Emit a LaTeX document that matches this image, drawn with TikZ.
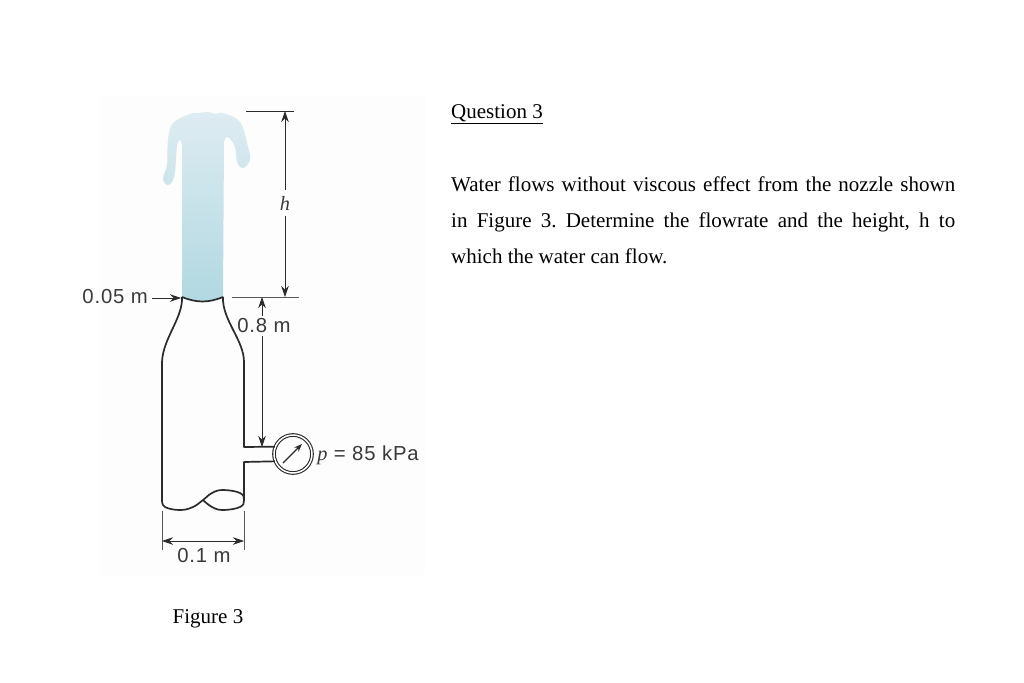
\documentclass[tikz,border=0pt]{standalone}
\usepackage{fontspec}
\setmainfont{Liberation Serif}
\newfontfamily\figfont[LetterSpace=4]{Liberation Sans}
\usetikzlibrary{arrows.meta}
\definecolor{inkdark}{HTML}{2B2B2B}
\definecolor{labelgray}{HTML}{3A3A3A}
\definecolor{jettop}{HTML}{DEECF2}
\definecolor{jetbot}{HTML}{B1D8E1}
\definecolor{panelbg}{HTML}{FDFDFD}
\tikzset{
    wall/.style={draw=inkdark,line width=1.7pt,line join=round},
    dimline/.style={draw=inkdark,line width=0.7pt},
    tickline/.style={draw=black!65,line width=0.9pt},
    dimarrow/.style={dimline,>={Stealth[length=11pt,width=7.5pt]}},
    figlabel/.style={text=labelgray,font=\figfont\fontsize{20.3}{22}\selectfont,inner sep=0pt},
    bodytext/.style={font=\fontsize{21}{36}\selectfont\frenchspacing,inner sep=0pt,anchor=north west}
}
\begin{document}
\begin{tikzpicture}[x=1pt,y=-1pt]
    \useasboundingbox (0,0) rectangle (1024,682);
    \fill[panelbg] (100,95) rectangle (425,575);
    % water jet
    \shade[top color=jettop,bottom color=jetbot] (182,297) -- plot[smooth, tension=0.6] coordinates {(182,145) (180,140) (177,146) (175,172) (172,182) (167,185) (163,178) (167,165) (168,140) (173,123) (190,114) (199,113) (208,112) (216,114) (223,113) (240,122) (248,147) (250,160) (243,168) (237,162) (235,147) (228,137) (224,141)} -- (223,297) to[bend left=22] cycle;
    % bottle
    \draw[wall] (182,297) to[bend right=22] (223,297);
    \node[circle,draw=inkdark,line width=1.1pt,double,double distance=1.5pt,minimum size=38pt,inner sep=0pt] (gauge) at (293,454) {};
    \draw[wall] (182,297) .. controls (183,318) and (163,338) .. (162,362) -- (162,500) plot[smooth, tension=0.7] coordinates {(162,500) (165,507) (180,510) (193,507) (203,500) (212,493) (223,490) (240,493) (244,500) (240,507) (223,510) (212,507) (203,500)};
    \draw[wall] (223,297) .. controls (222,320) and (244,340) .. (244,362) -- (244,447) -- (gauge.158);
    \draw[wall] (gauge.202) -- (244,462) -- (244,500);
    \coordinate (needlea) at (283,463);
    \coordinate (needleb) at (302,444);
    \draw[->,>={Stealth[length=8pt,width=6pt]},draw=inkdark,line width=1.3pt] (needlea) -- (needleb);
    % labels
    \node[figlabel] (plabel) at (368,455) {{\fontspec{Liberation Serif}\itshape p} = 85 kPa};
    \node[figlabel,anchor=east] (dnozzle) at (148,297) {0.05 m};
    \node[figlabel,inner sep=6pt] (heightlabel) at (285,203) {{\fontspec{Liberation Serif}\itshape h}};
    \node[figlabel,inner sep=3pt] (lenlabel) at (264,326) {0.8 m};
    \node[figlabel] (dpipe) at (204,556) {0.1 m};
    % dimension h
    \coordinate (htopa) at (246,111);
    \coordinate (htopb) at (294,111);
    \coordinate (hbota) at (232,297);
    \coordinate (hbotb) at (299,297);
    \draw[dimline] (htopa) -- (htopb);
    \draw[tickline] (hbota) -- (hbotb);
    \coordinate (harrowa) at (285,111);
    \coordinate (harrowb) at (285,297);
    \draw[dimarrow,->] (heightlabel) -- (harrowa);
    \draw[dimarrow,->] (heightlabel) -- (harrowb);
    % dimension 0.8 m
    \coordinate (lenup) at (262,297);
    \coordinate (lendown) at (262,447);
    \draw[dimarrow,->] (lenlabel.north -| lenup) -- (lenup);
    \draw[dimarrow,->] (lenlabel.south -| lendown) -- (lendown);
    % dimension 0.05 m
    \coordinate (nozzleleft) at (181,298);
    \draw[dimarrow,->] (dnozzle.east) ++(4,1) -- (nozzleleft);
    % dimension 0.1 m
    \coordinate (ticka) at (162,511);
    \coordinate (tickb) at (244,511);
    \coordinate (tickc) at (162,550);
    \coordinate (tickd) at (244,550);
    \draw[tickline] (ticka) -- (tickc);
    \draw[tickline] (tickb) -- (tickd);
    \coordinate (dima) at (162,541);
    \coordinate (dimb) at (244,541);
    \draw[dimarrow,<->] (dima) -- (dimb);
    % texts
    \node[font=\fontsize{21}{24}\selectfont,inner sep=0pt] (figcaption) at (208,619) {Figure 3};
    \node[bodytext,anchor=base west] (qtitle) at (451,118) {\underline{Question 3}};
    \node[bodytext,anchor=base west,text width=504pt,align=justify] (qbody) at (451,191) {Water flows without viscous effect from the nozzle shown\linebreak in Figure 3. Determine the flowrate and the height, h to\linebreak which the water can flow.};
\end{tikzpicture}
\end{document}
